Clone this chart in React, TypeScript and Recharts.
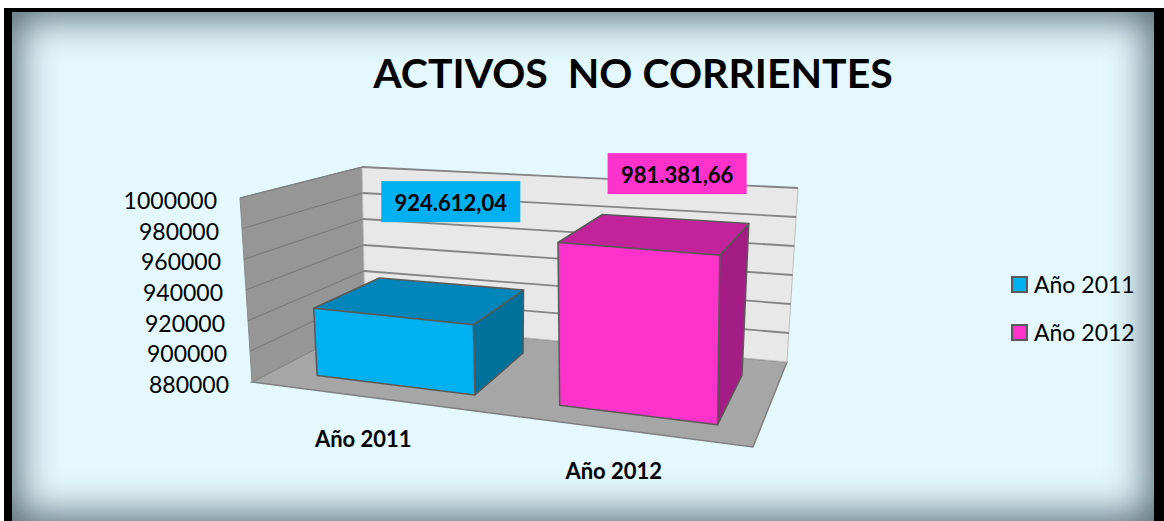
import { BarChart, Bar, XAxis, YAxis, CartesianGrid, ReferenceArea, LabelList, Legend, Cell } from 'recharts';

const CATEGORIES = ['Año 2011', 'Año 2012'];
const VALUES = [924612.04, 981381.66];
const VALUE_LABELS = ['924.612,04', '981.381,66'];
const Y_TICKS = [880000, 900000, 920000, 940000, 960000, 980000, 1000000];

const FRONT_COLORS = ['#00b0f0', '#ff33cc'];
const TOP_COLORS = ['#0086b8', '#c2239b'];
const SIDE_COLORS = ['#00719b', '#a41d84'];

const data = CATEGORIES.map((name, i) => ({ name, value: VALUES[i], label: VALUE_LABELS[i] }));

const W = 1164;
const H = 521;
const MARGIN = { top: 200, right: 411, bottom: 108, left: 222 };
const Y_AXIS_W = 30;
const X_AXIS_H = 30;
const PLOT_LEFT = MARGIN.left + Y_AXIS_W;
const PLOT_W = W - PLOT_LEFT - MARGIN.right;
const PLOT_TOP = MARGIN.top;
const PLOT_H = H - MARGIN.top - MARGIN.bottom - X_AXIS_H;

const FONT = 'Lato, "Open Sans", sans-serif';

// corners of the 3d box (floor and top of the walls), used to fake the Excel perspective
const FL = [252, 382], FR = [753, 447], BL = [365, 323], BR = [787, 362];
const FLt = [240, 198], FRt = [755, 237], BLt = [362, 167], BRt = [798, 188];
const BAR_W0 = 0.2;
const BAR_W1 = 0.8;

const quad = (a: number[], b: number[], c: number[], d: number[], u: number, w: number) => [
  (1 - u) * (1 - w) * a[0] + u * (1 - w) * b[0] + (1 - u) * w * c[0] + u * w * d[0],
  (1 - u) * (1 - w) * a[1] + u * (1 - w) * b[1] + (1 - u) * w * c[1] + u * w * d[1],
];

const proj = (u: number, v: number, w: number) => {
  const b = quad(FL, FR, BL, BR, u, w);
  const t = quad(FLt, FRt, BLt, BRt, u, w);
  return [b[0] + v * (t[0] - b[0]), b[1] + v * (t[1] - b[1])];
};

const toU = (px: number) => (px - PLOT_LEFT) / PLOT_W;
const toV = (py: number) => (PLOT_TOP + PLOT_H - py) / PLOT_H;
const pts = (arr: number[][]) => arr.map((p) => `${p[0].toFixed(1)},${p[1].toFixed(1)}`).join(' ');

const Walls = (props: any) => {
  const { x, y, width, height } = props;
  const u0 = toU(x), u1 = toU(x + width);
  const v0 = toV(y + height), v1 = toV(y);
  return (
    <g>
      <polygon points={pts([proj(u0, v0, 0), proj(u1, v0, 0), proj(u1, v0, 1), proj(u0, v0, 1)])} fill="#a6a6a6" stroke="#7f7f7f" strokeWidth={1.5} />
      <polygon points={pts([proj(u0, v0, 0), proj(u0, v0, 1), proj(u0, v1, 1), proj(u0, v1, 0)])} fill="#969696" stroke="#8a8a8a" strokeWidth={1} />
      <polygon points={pts([proj(u0, v0, 1), proj(u1, v0, 1), proj(u1, v1, 1), proj(u0, v1, 1)])} fill="#e8e8e8" stroke="#bdbdbd" strokeWidth={1} />
    </g>
  );
};

const GridLine3D = (props: any) => {
  const { y1 } = props;
  const v = toV(y1);
  if (v < 0.001) return <g />;
  const a = proj(0, v, 0), b = proj(0, v, 1), c = proj(1, v, 1);
  return (
    <g>
      <line x1={a[0]} y1={a[1]} x2={b[0]} y2={b[1]} stroke="#7d7d7d" strokeWidth={1.2} />
      <line x1={b[0]} y1={b[1]} x2={c[0]} y2={c[1]} stroke="#858585" strokeWidth={1.8} />
    </g>
  );
};

const Box3D = (props: any) => {
  const { x, y, width, height, index } = props;
  const u0 = toU(x), u1 = toU(x + width);
  const v0 = toV(y + height), v1 = toV(y);
  const front = [proj(u0, v0, BAR_W0), proj(u1, v0, BAR_W0), proj(u1, v1, BAR_W0), proj(u0, v1, BAR_W0)];
  const side = [proj(u1, v0, BAR_W0), proj(u1, v0, BAR_W1), proj(u1, v1, BAR_W1), proj(u1, v1, BAR_W0)];
  const top = [proj(u0, v1, BAR_W0), proj(u1, v1, BAR_W0), proj(u1, v1, BAR_W1), proj(u0, v1, BAR_W1)];
  const line = { stroke: '#595959', strokeWidth: 1.5, strokeLinejoin: 'round' as const };
  return (
    <g>
      <polygon points={pts(side)} fill={SIDE_COLORS[index]} {...line} />
      <polygon points={pts(top)} fill={TOP_COLORS[index]} {...line} />
      <polygon points={pts(front)} fill={FRONT_COLORS[index]} {...line} />
    </g>
  );
};

const ValueTag = (props: any) => {
  const { x, y, width, value, index } = props;
  const v = toV(y);
  const p = proj(toU(x + width / 2), 0.5 * v + 0.68, BAR_W1);
  return (
    <g>
      <rect x={p[0] - 69.5} y={p[1] - 20.5} width={139} height={41} fill={FRONT_COLORS[index]} />
      <text x={p[0]} y={p[1] + 1} textAnchor="middle" dominantBaseline="central" fontFamily={FONT} fontWeight="bold" fontSize={22} fill="#000">
        {value}
      </text>
    </g>
  );
};

const YTick = (props: any) => {
  const { y, payload } = props;
  const p = proj(0, toV(y), 0);
  return (
    <text x={p[0] - 23} y={p[1] + 2} textAnchor="end" dominantBaseline="central" fontFamily={FONT} fontSize={23} fill="#000">
      {payload.value}
    </text>
  );
};

const XTick = (props: any) => {
  const { x, payload } = props;
  const p = proj(toU(x), 0, 0);
  return (
    <text x={p[0] - 14} y={p[1] + 40} textAnchor="middle" dominantBaseline="central" fontFamily={FONT} fontWeight="bold" fontSize={22} fill="#000">
      {payload.value}
    </text>
  );
};

const LegendBox = () => (
  <div style={{ fontFamily: FONT, fontSize: 23, color: '#000' }}>
    {CATEGORIES.map((c, i) => (
      <div key={c} style={{ display: 'flex', alignItems: 'center', height: 28, marginBottom: 20 }}>
        <span style={{ width: 13, height: 13, background: FRONT_COLORS[i], border: '2px solid #5a5a5a', marginRight: 6 }} />
        <span>{c}</span>
      </div>
    ))}
  </div>
);

export default function App() {
  return (
    <div>
      <div
        style={{
          position: 'absolute',
          left: 4,
          top: 8,
          width: 1160,
          height: 513,
          boxSizing: 'border-box',
          borderTop: '4px solid #000',
          borderLeft: '8px solid #000',
          borderRight: '10px solid #000',
          background: '#e4f8fd',
          boxShadow: 'inset 0 0 38px 6px rgba(60,80,90,0.85)',
        }}
      />
      <div
        style={{
          position: 'absolute',
          left: 633,
          top: 48,
          transform: 'translateX(-50%)',
          whiteSpace: 'pre',
          fontFamily: FONT,
          fontWeight: 'bold',
          fontSize: 41,
          lineHeight: '49px',
          color: '#000',
        }}
      >
        ACTIVOS  NO CORRIENTES
      </div>
      <div style={{ position: 'absolute', left: 0, top: 0 }}>
        <BarChart width={W} height={H} data={data} margin={MARGIN} barCategoryGap="17.5%">
          <ReferenceArea y1={880000} y2={1000000} shape={Walls} ifOverflow="visible" zIndex={-200} />
          <CartesianGrid horizontal={GridLine3D} vertical={false} />
          <XAxis dataKey="name" height={X_AXIS_H} axisLine={false} tickLine={false} tick={XTick} interval={0} />
          <YAxis width={Y_AXIS_W} domain={[880000, 1000000]} ticks={Y_TICKS} axisLine={false} tickLine={false} tick={YTick} />
          <Legend
            layout="vertical"
            align="center"
            verticalAlign="middle"
            wrapperStyle={{ left: 1011, top: 270, width: 150, height: 90 }}
            content={LegendBox}
          />
          <Bar dataKey="value" shape={Box3D} isAnimationActive={false}>
            {data.map((d, i) => (
              <Cell key={d.name} fill={FRONT_COLORS[i]} />
            ))}
            <LabelList dataKey="label" content={ValueTag} />
          </Bar>
        </BarChart>
      </div>
    </div>
  );
}
